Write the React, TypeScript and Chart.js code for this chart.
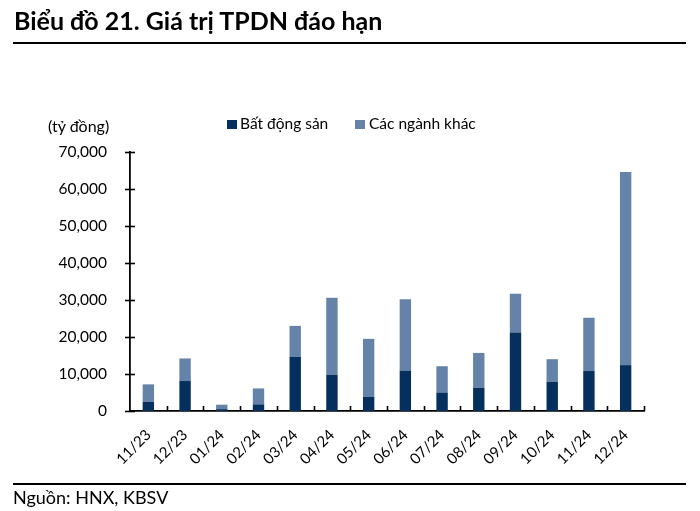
import React, { useEffect, useRef } from "react";
import { Chart, registerables } from "chart.js";

Chart.register(...registerables);

const categories = ["11/23", "12/23", "01/24", "02/24", "03/24", "04/24", "05/24", "06/24", "07/24", "08/24", "09/24", "10/24", "11/24", "12/24"];
const realEstate = [2500, 8100, 500, 1800, 14600, 9800, 3800, 10900, 5000, 6300, 21200, 7900, 10800, 12400];
const otherSectors = [4700, 6100, 1200, 4300, 8400, 20800, 15700, 19300, 7100, 9400, 10500, 6100, 14400, 52200];
const seriesNames = ["Bất động sản", "Các ngành khác"];
const seriesColors = ["#052f5c", "#6583a8"];
const yMax = 70000;
const yStep = 10000;

const FONT = "Lato, 'Open Sans', sans-serif";

const axisTicks = {
  id: "axisTicks",
  afterDraw(chart: any) {
    const { ctx, scales } = chart;
    const x = scales.x;
    const y = scales.y;
    ctx.save();
    ctx.strokeStyle = "#000";
    ctx.lineWidth = 1.6;
    const axisY = y.getPixelForValue(0);
    for (let i = 1; i <= categories.length; i++) {
      const px = Math.round(x.getPixelForValue(i - 0.5)) + 0.5;
      ctx.beginPath();
      ctx.moveTo(px, axisY);
      ctx.lineTo(px, axisY - 5);
      ctx.stroke();
    }
    const axisX = x.left;
    y.ticks.forEach((t: any) => {
      const py = Math.round(y.getPixelForValue(t.value)) + 0.5;
      ctx.beginPath();
      ctx.moveTo(axisX - 5, py);
      ctx.lineTo(axisX + 5, py);
      ctx.stroke();
    });
    ctx.restore();
  },
};

export default function App() {
  const ref = useRef<HTMLCanvasElement | null>(null);

  useEffect(() => {
    if (!ref.current) return;
    const chart = new Chart(ref.current, {
      type: "bar",
      data: {
        labels: categories,
        datasets: [
          { label: seriesNames[0], data: realEstate, backgroundColor: seriesColors[0], barPercentage: 0.31, categoryPercentage: 1 },
          { label: seriesNames[1], data: otherSectors, backgroundColor: seriesColors[1], barPercentage: 0.31, categoryPercentage: 1 },
        ],
      },
      options: {
        animation: false,
        responsive: false,
        maintainAspectRatio: false,
        layout: { padding: { left: 0, top: 152, right: 56, bottom: 0 } },
        plugins: { legend: { display: false }, tooltip: { enabled: false }, title: { display: false } },
        scales: {
          x: {
            stacked: true,
            offset: true,
            grid: { display: false },
            border: { display: true, color: "#000", width: 1.8 },
            ticks: {
              color: "#000",
              font: { family: FONT, size: 15 },
              minRotation: 45,
              maxRotation: 45,
              autoSkip: false,
              padding: 7,
            },
            afterFit: (s: any) => {
              s.height = 100;
            },
          },
          y: {
            stacked: true,
            min: 0,
            max: yMax,
            grid: { display: false },
            border: { display: true, color: "#000", width: 1.8 },
            ticks: {
              stepSize: yStep,
              color: "#000",
              padding: 15,
              font: { family: FONT, size: 15.5 },
              callback: (v: any) => Number(v).toLocaleString("en-US"),
            },
            afterFit: (s: any) => {
              s.width = 130;
            },
          },
        },
      },
      plugins: [axisTicks],
    });
    return () => chart.destroy();
  }, []);

  const textBase: React.CSSProperties = { position: "absolute", fontFamily: FONT, color: "#000", whiteSpace: "nowrap", lineHeight: 1 };

  return (
    <div style={{ position: "fixed", left: 0, top: 0, width: 700, height: 511, background: "#fff", overflow: "hidden" }}>
      <canvas ref={ref} width={700} height={511} style={{ position: "absolute", left: 0, top: 0, width: 700, height: 511 }} />
      <div style={{ ...textBase, left: 14, top: 8, fontSize: 25, fontWeight: 700 }}>Biểu đồ 21. Giá trị TPDN đáo hạn</div>
      <div style={{ position: "absolute", left: 13, top: 42, width: 673, height: 1.5, background: "#000" }} />
      <div style={{ ...textBase, left: 48, top: 118, fontSize: 16 }}>(tỷ đồng)</div>
      <div style={{ position: "absolute", left: 227, top: 120, width: 10, height: 9, background: seriesColors[0] }} />
      <div style={{ ...textBase, left: 240, top: 116, fontSize: 15.5 }}>{seriesNames[0]}</div>
      <div style={{ position: "absolute", left: 355, top: 120, width: 10, height: 9, background: seriesColors[1] }} />
      <div style={{ ...textBase, left: 369, top: 116, fontSize: 15.5 }}>{seriesNames[1]}</div>
      <div style={{ position: "absolute", left: 13, top: 483, width: 673, height: 1.5, background: "#000" }} />
      <div style={{ ...textBase, left: 13, top: 488, fontSize: 18 }}>Nguồn: HNX, KBSV</div>
    </div>
  );
}
